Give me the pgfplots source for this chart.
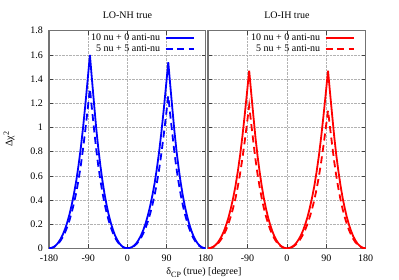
\documentclass[border=0pt]{standalone}
\usepackage{fontspec}
\setmainfont{Liberation Serif}
\usepackage{pgfplots}
\usepackage{pgfplotstable}
\pgfplotsset{compat=1.18}
\pgfplotstableread{
x nhs nhd ihs ihd
-180 0 0 0 0
-174.8 0.003 0.002 0.002 0.002
-169.6 0.010 0.009 0.010 0.008
-164.3 0.024 0.020 0.022 0.018
-159.1 0.045 0.037 0.041 0.033
-153.9 0.074 0.061 0.068 0.054
-148.7 0.110 0.091 0.101 0.081
-143.4 0.157 0.129 0.144 0.116
-138.2 0.213 0.176 0.196 0.157
-133.0 0.280 0.231 0.257 0.207
-127.8 0.360 0.297 0.331 0.266
-122.6 0.453 0.374 0.416 0.334
-117.3 0.560 0.462 0.515 0.413
-112.1 0.688 0.568 0.632 0.507
-106.9 0.832 0.686 0.764 0.614
-101.7 1.000 0.825 0.919 0.738
-96.4 1.192 0.983 1.095 0.879
-91.2 1.392 1.148 1.279 1.027
-86 1.600 1.320 1.470 1.180
-81.2 1.392 1.148 1.279 1.027
-76.4 1.192 0.983 1.095 0.879
-71.7 1.000 0.825 0.919 0.738
-66.9 0.832 0.686 0.764 0.614
-62.1 0.688 0.568 0.632 0.507
-57.3 0.560 0.462 0.515 0.413
-52.6 0.453 0.374 0.416 0.334
-47.8 0.360 0.297 0.331 0.266
-43.0 0.280 0.231 0.257 0.207
-38.2 0.213 0.176 0.196 0.157
-33.4 0.157 0.129 0.144 0.116
-28.7 0.110 0.091 0.101 0.081
-23.9 0.074 0.061 0.068 0.054
-19.1 0.045 0.037 0.041 0.033
-14.3 0.024 0.020 0.022 0.018
-9.6 0.010 0.009 0.010 0.008
-4.8 0.003 0.002 0.002 0.002
0 0 0 0 0
5.2 0.003 0.002 0.002 0.002
10.4 0.010 0.008 0.010 0.007
15.7 0.023 0.019 0.022 0.017
20.9 0.043 0.035 0.041 0.032
26.1 0.071 0.058 0.068 0.052
31.3 0.106 0.087 0.101 0.079
36.6 0.151 0.123 0.144 0.112
41.8 0.205 0.168 0.196 0.152
47.0 0.270 0.221 0.257 0.200
52.2 0.347 0.284 0.331 0.257
57.4 0.436 0.357 0.416 0.323
62.7 0.539 0.441 0.515 0.399
67.9 0.662 0.542 0.632 0.490
73.1 0.801 0.655 0.764 0.593
78.3 0.963 0.788 0.919 0.713
83.6 1.147 0.939 1.095 0.849
88.8 1.340 1.096 1.279 0.992
94 1.540 1.260 1.470 1.140
98.8 1.340 1.096 1.279 0.992
103.6 1.147 0.939 1.095 0.849
108.3 0.963 0.788 0.919 0.713
113.1 0.801 0.655 0.764 0.593
117.9 0.662 0.542 0.632 0.490
122.7 0.539 0.441 0.515 0.399
127.4 0.436 0.357 0.416 0.323
132.2 0.347 0.284 0.331 0.257
137.0 0.270 0.221 0.257 0.200
141.8 0.205 0.168 0.196 0.152
146.6 0.151 0.123 0.144 0.112
151.3 0.106 0.087 0.101 0.079
156.1 0.071 0.058 0.068 0.052
160.9 0.043 0.035 0.041 0.032
165.7 0.023 0.019 0.022 0.017
170.4 0.010 0.008 0.010 0.007
175.2 0.003 0.002 0.002 0.002
180 0 0 0 0
}\chidata

\pgfplotsset{
  gpstyle/.style={
    scale only axis, height=217.6pt,
    xmin=-180, xmax=180, ymin=0, ymax=1.8,
    ytick={0,0.2,0.4,0.6,0.8,1,1.2,1.4,1.6,1.8},
    grid=major,
    grid style={densely dotted, gray!60, line width=0.5pt},
    axis line style={black!55, line width=1.2pt},
    tick style={black!75, line width=0.5pt},
    tick align=inside, major tick length=4pt,
    tick label style={font=\fontsize{10}{12}\selectfont},
    /pgf/number format/assume math mode=true,
    xticklabel style={yshift=-3.5pt},
    yticklabel style={xshift=-2.7pt},
    legend plot pos=right,
    legend cell align=right,
    legend style={at={(1,1)}, anchor=north east, xshift=-11pt, yshift=-2pt,
      draw=none, fill=none, inner sep=0pt, row sep=0.7pt,
      /tikz/column sep=4pt,
      nodes={inner sep=0.5pt, text height=7pt, text depth=2pt},
      font=\fontsize{10}{12}\selectfont},
    legend image code/.code={\draw[##1] (0pt,0pt) -- (28pt,0pt);},
  }
}

\begin{document}
\begin{tikzpicture}
\path[use as bounding box] (0,0) rectangle (399pt,279pt);
\begin{axis}[gpstyle, at={(49pt,30.7pt)}, anchor=south west, width=156.7pt,
  xtick={-180,-90,0,90,180}]
\addplot[blue, line width=1.8pt] table[x=x, y=nhs]{\chidata};
\addlegendentry{10 nu + 0 anti-nu}
\addplot[blue, line width=1.8pt, dash pattern=on 7pt off 4.5pt] table[x=x, y=nhd]{\chidata};
\addlegendentry{5 nu + 5 anti-nu}
\end{axis}
\begin{axis}[gpstyle, at={(208pt,30.7pt)}, anchor=south west, width=157.7pt,
  xtick={-90,0,90,180}, yticklabels={}]
\addplot[red, line width=1.8pt] table[x=x, y=ihs]{\chidata};
\addlegendentry{10 nu + 0 anti-nu}
\addplot[red, line width=1.8pt, dash pattern=on 7pt off 4.5pt] table[x=x, y=ihd]{\chidata};
\addlegendentry{5 nu + 5 anti-nu}
\end{axis}
\node[font=\fontsize{10}{12}\selectfont] at (127.4pt,264pt) {LO-NH true};
\node[font=\fontsize{10}{12}\selectfont] at (286.9pt,264pt) {LO-IH true};
\node[font=\fontsize{10}{12}\selectfont, rotate=90] at (9pt,140pt) {Δχ\raisebox{3.5pt}{\fontsize{8}{8}\selectfont 2}};
\node[font=\fontsize{10}{12}\selectfont, anchor=base] at (204pt,4.5pt) {δ\raisebox{-2.5pt}{\fontsize{8}{8}\selectfont CP} (true) [degree]};
\end{tikzpicture}
\end{document}
